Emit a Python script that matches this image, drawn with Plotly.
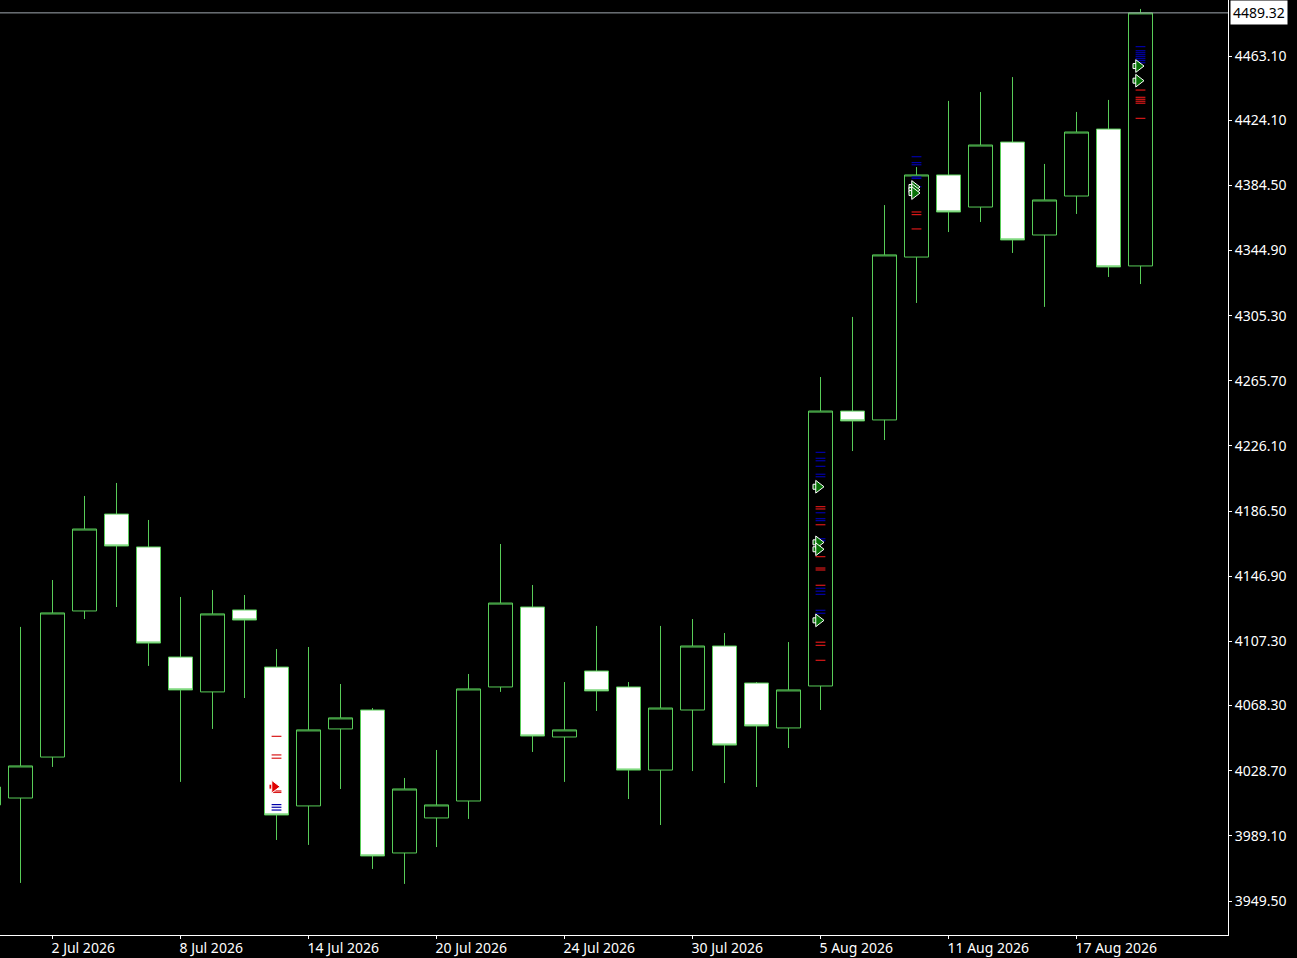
# MT4 style daily candles with order marks
import plotly.graph_objects as go

# daily bars, weekends left out
dates = ["30 Jun 2026", "1 Jul 2026", "2 Jul 2026", "3 Jul 2026", "6 Jul 2026", "7 Jul 2026", "8 Jul 2026",
         "9 Jul 2026", "10 Jul 2026", "13 Jul 2026", "14 Jul 2026", "15 Jul 2026", "16 Jul 2026", "17 Jul 2026",
         "20 Jul 2026", "21 Jul 2026", "22 Jul 2026", "23 Jul 2026", "24 Jul 2026", "27 Jul 2026", "28 Jul 2026",
         "29 Jul 2026", "30 Jul 2026", "31 Jul 2026", "3 Aug 2026", "4 Aug 2026", "5 Aug 2026", "6 Aug 2026",
         "7 Aug 2026", "10 Aug 2026", "11 Aug 2026", "12 Aug 2026", "13 Aug 2026", "14 Aug 2026", "17 Aug 2026",
         "18 Aug 2026", "19 Aug 2026"]
opens = [4007.9, 4012.1, 4037.0, 4125.8, 4184.7, 4164.7, 4097.8, 4076.6, 4126.4, 4091.7, 4007.3, 4054.1, 4065.6,
         3978.7, 4000.0, 4010.3, 4079.6, 4128.2, 4049.2, 4089.3, 4079.6, 4029.1, 4065.6, 4104.5, 4082.0, 4054.7,
         4080.2, 4247.3, 4241.9, 4340.9, 4390.8, 4371.3, 4410.8, 4354.3, 4378.0, 4418.7, 4335.5]
highs = [4030.0, 4116.1, 4144.6, 4195.7, 4203.6, 4181.1, 4134.3, 4138.5, 4135.5, 4102.7, 4103.9, 4081.4, 4066.8,
         4024.3, 4041.3, 4087.5, 4166.5, 4141.6, 4082.6, 4116.7, 4082.6, 4116.7, 4120.9, 4112.4, 4082.6, 4106.9,
         4268.0, 4304.5, 4372.5, 4395.6, 4435.8, 4441.2, 4450.3, 4397.5, 4429.1, 4436.4, 4491.7]
lows = [3995.0, 3960.5, 4031.0, 4120.9, 4128.2, 4092.4, 4021.9, 4054.1, 4072.9, 3986.6, 3983.6, 4017.6, 3969.0,
        3959.9, 3982.3, 3999.4, 4076.6, 4040.1, 4021.9, 4065.0, 4011.5, 3995.7, 4028.5, 4021.2, 4018.8, 4042.5,
        4065.6, 4223.0, 4229.7, 4313.0, 4356.1, 4362.2, 4343.4, 4310.6, 4367.1, 4328.8, 4324.5]
closes = [4018.8, 4031.6, 4124.6, 4175.6, 4165.3, 4106.3, 4077.8, 4124.0, 4120.3, 4001.8, 4053.5, 4060.8, 3976.9,
          4017.6, 4007.9, 4078.4, 4130.6, 4049.8, 4053.5, 4077.2, 4029.1, 4066.8, 4104.5, 4044.3, 4055.9, 4077.8,
          4247.3, 4241.3, 4342.2, 4390.8, 4368.3, 4409.0, 4351.3, 4375.6, 4416.9, 4334.9, 4489.3]

date_ticks = ["2 Jul 2026", "8 Jul 2026", "14 Jul 2026", "20 Jul 2026", "24 Jul 2026", "30 Jul 2026",
              "5 Aug 2026", "11 Aug 2026", "17 Aug 2026"]
price_ticks = [4463.10, 4424.10, 4384.50, 4344.90, 4305.30, 4265.70, 4226.10, 4186.50, 4146.90, 4107.30,
               4068.30, 4028.70, 3989.10, 3949.50]
last_price = 4489.32

# order levels, by bar
blue_levels = {
    "13 Jul 2026": [4008.1, 4006.5, 4004.8],
    "5 Aug 2026": [4222.2, 4218.6, 4217.1, 4213.7, 4208.9, 4207.4, 4185.5, 4181.9, 4180.7, 4169.7, 4168.5,
                   4139.6, 4137.8, 4135.9, 4126.2, 4124.4],
    "10 Aug 2026": [4401.9, 4398.3, 4397.0, 4389.6, 4388.7, 4383.7],
    "19 Aug 2026": [4468.8, 4466.3, 4465.1, 4463.9, 4462.7, 4461.5, 4460.3, 4459.0],
}
red_levels = {
    "13 Jul 2026": [4049.6, 4038.3, 4036.3, 4016.4, 4015.5],
    "5 Aug 2026": [4189.2, 4187.8, 4178.2, 4158.8, 4151.9, 4150.7, 4141.4, 4106.8, 4104.9, 4095.8],
    "10 Aug 2026": [4368.3, 4366.7, 4358.0],
    "19 Aug 2026": [4442.4, 4438.0, 4436.8, 4435.6, 4434.4, 4425.2],
}
green_arrows = {
    "5 Aug 2026": [4201.3, 4167.5, 4163.3, 4120.1],
    "10 Aug 2026": [4383.5, 4381.7, 4379.8],
    "19 Aug 2026": [4457.0, 4448.1],
}
red_arrows = {
    "13 Jul 2026": [4019.0],
}

GREEN = "#58cc58"
BAR_PX = 32  # one bar on screen
bar_x = list(range(len(dates)))


def flatten(levels, shift=0.0):
    xs, ys = [], []
    for day, prices in levels.items():
        for p in prices:
            xs.append(dates.index(day) + shift)
            ys.append(p)
    return xs, ys


fig = go.Figure()

fig.add_trace(go.Candlestick(
    x=bar_x, open=opens, high=highs, low=lows, close=closes,
    whiskerwidth=0,
    increasing=dict(fillcolor="black", line=dict(color=GREEN, width=1)),
    decreasing=dict(fillcolor="white", line=dict(color=GREEN, width=1)),
    showlegend=False,
))

# dashes for the order levels
for levels, colour in [(blue_levels, "#0000a8"), (red_levels, "#d81818")]:
    xs, ys = flatten(levels)
    fig.add_trace(go.Scatter(
        x=xs, y=ys, mode="markers", showlegend=False,
        marker=dict(symbol="line-ew", size=7, line=dict(color=colour, width=1.2)),
    ))

# arrows sit a little left of the bar centre: a tail and a head
for levels, colour in [(green_arrows, "#067006"), (red_arrows, "#e00000")]:
    xs, ys = flatten(levels, -5.0 / BAR_PX)
    fig.add_trace(go.Scatter(
        x=xs, y=ys, mode="markers", showlegend=False,
        marker=dict(symbol="square", size=5, color=colour, line=dict(color="white", width=1)),
    ))
    xs, ys = flatten(levels, -2.0 / BAR_PX)
    fig.add_trace(go.Scatter(
        x=xs, y=ys, mode="markers", showlegend=False,
        marker=dict(symbol="triangle-right", size=11, color=colour, line=dict(color="white", width=1)),
    ))

fig.add_shape(type="line", xref="paper", x0=0, x1=1, yref="y", y0=last_price, y1=last_price,
              line=dict(color="#a0a8b0", width=1))
fig.add_annotation(xref="paper", x=1, yref="y", y=last_price, xanchor="left", xshift=2,
                   text=f"{last_price:.2f}", showarrow=False, bgcolor="white", borderpad=2,
                   font=dict(color="black", size=14, family="Noto Sans"))

fig.update_layout(
    width=1297, height=958,
    margin=dict(l=0, r=69, t=0, b=23),
    paper_bgcolor="black", plot_bgcolor="black",
    font=dict(color="white", family="Noto Sans", size=14),
    boxgap=0.25, boxgroupgap=0,
    showlegend=False,
    xaxis=dict(
        range=[0.359375, 38.734375], rangeslider=dict(visible=False), showgrid=False, zeroline=False,
        tickmode="array", tickvals=[dates.index(d) for d in date_ticks], ticktext=date_ticks,
        ticks="outside", ticklen=3, tickcolor="white", ticklabelposition="outside right", ticklabelshift=-2,
        showline=True, linecolor="white", linewidth=1,
    ),
    yaxis=dict(
        range=[3928.85, 4497.14], side="right", showgrid=False, zeroline=False,
        tickmode="array", tickvals=price_ticks, tickformat=".2f",
        ticks="outside", ticklen=3, tickcolor="white",
        showline=True, linecolor="white", linewidth=1,
    ),
)

fig.write_html("out.html", config={"displayModeBar": False},
               post_script="document.body.style.margin='0';")
